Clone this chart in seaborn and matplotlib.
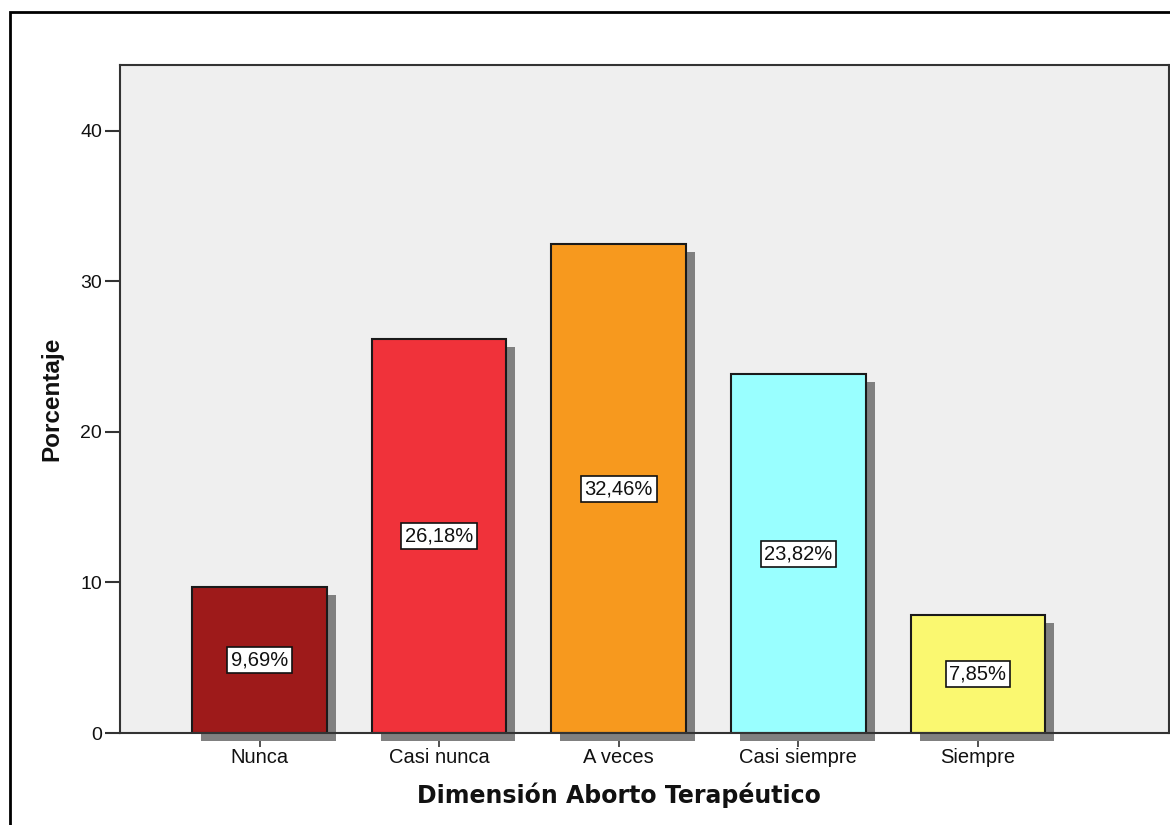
import matplotlib
matplotlib.use("Agg")
import matplotlib.pyplot as plt
import seaborn as sns
import pandas as pd
from matplotlib.transforms import ScaledTranslation
from matplotlib.patches import Rectangle

categories = ["Nunca", "Casi nunca", "A veces", "Casi siempre", "Siempre"]
percentages = [9.69, 26.18, 32.46, 23.82, 7.85]
bar_colors = ["#9E1A1A", "#F0323A", "#F7991E", "#99FFFF", "#FAF870"]
y_ticks = [0, 10, 20, 30, 40]

df = pd.DataFrame({"cat": categories, "pct": percentages})

sns.set_style("white")
plt.rcParams["font.family"] = ["Liberation Sans", "DejaVu Sans"]

fig = plt.figure(figsize=(11.7, 8.25), dpi=100)
ax = fig.add_axes([120 / 1170, 1 - 733 / 825, (1169 - 120) / 1170, (733 - 65) / 825])
ax.set_facecolor("#EFEFEF")

# shadows
sns.barplot(data=df, x="cat", y="pct", order=categories, color="#808080",
            width=0.75, ax=ax, errorbar=None, saturation=1, linewidth=0)
shadow_patches = list(ax.patches)
off = ScaledTranslation(9 / 100, -8 / 100, fig.dpi_scale_trans)
for p in shadow_patches:
    p.set_transform(ax.transData + off)
    p.set_clip_on(False)
    p.set_zorder(3)

# bars
sns.barplot(data=df, x="cat", y="pct", order=categories, hue="cat",
            hue_order=categories, palette=bar_colors, width=0.75, ax=ax,
            errorbar=None, saturation=1, edgecolor="#1a1a1a", linewidth=1.5,
            legend=False)
for p in ax.patches[len(shadow_patches):]:
    p.set_zorder(4)

for i, v in enumerate(percentages):
    ax.text(i, v / 2, f"{v:.2f}".replace(".", ",") + "%", ha="center", va="center",
            fontsize=14.5, color="#111111", zorder=6,
            bbox=dict(boxstyle="square,pad=0.18", facecolor="white",
                      edgecolor="#111111", linewidth=1.2))

ax.set_xlim(-0.777, 5.064)
ax.set_ylim(0, 44.38)
ax.set_yticks(y_ticks)
ax.set_yticklabels([str(t) for t in y_ticks])
ax.tick_params(axis="y", length=11, width=1.5, color="#333333", labelsize=14,
               labelcolor="#111111", pad=2, left=True)
ax.tick_params(axis="x", length=10, width=1.2, color="#333333", labelsize=14.5,
               labelcolor="#111111", pad=1, bottom=True)

for s in ax.spines.values():
    s.set_visible(True)
    s.set_color("#333333")
    s.set_linewidth(1.5)
    s.set_zorder(5)

ax.set_xlabel("Dimensión Aborto Terapéutico", fontsize=17, fontweight="bold",
              family="DejaVu Sans", color="#111111")
ax.xaxis.set_label_coords((619 - 120) / 1049, -(795 - 733) / 668, transform=ax.transAxes)
ax.xaxis.label.set_va("center")
ax.set_ylabel("Porcentaje", fontsize=17.5, fontweight="bold", color="#111111")
ax.yaxis.set_label_coords(-(120 - 52) / 1049, 0.5, transform=ax.transAxes)
ax.yaxis.label.set_va("center")

fig.patches.append(Rectangle((10 / 1170, -0.1), 1.2, 1 - 12 / 825 + 0.1,
                             transform=fig.transFigure, fill=False,
                             edgecolor="black", linewidth=2, zorder=0))

fig.savefig("out.png", dpi=100, facecolor="white")
